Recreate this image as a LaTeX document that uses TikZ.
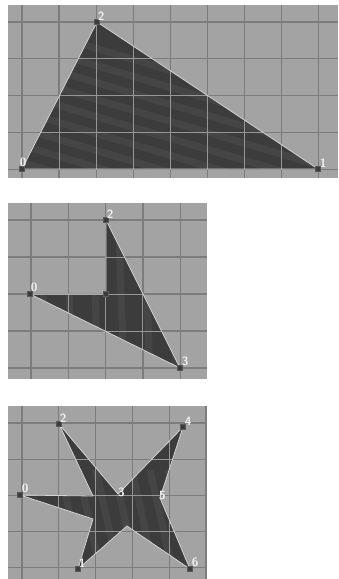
\documentclass[tikz,border=0pt]{standalone}
\usepackage{tikz}
\usetikzlibrary{positioning}

\definecolor{panelgray}{RGB}{163,163,163}
\definecolor{gridgray}{RGB}{124,124,124}
\definecolor{gridlight}{RGB}{150,150,150}
\definecolor{polyfill}{RGB}{60,60,60}
\definecolor{edgelight}{RGB}{212,212,212}
\definecolor{labelwhite}{RGB}{238,238,238}

\begin{document}
\begin{tikzpicture}[x=1pt,y=-1pt,node distance=1pt,
                    panel/.style={fill=panelgray},
                    gridline/.style={gridgray,line width=1.3pt},
                    innergrid/.style={gridlight,line width=1pt},
                    poly/.style={fill=polyfill},
                    polyedge/.style={edgelight,line width=0.8pt,line join=round},
                    streak/.style={white,opacity=0.05,line width=7pt},
                    vert/.style={rectangle,fill=polyfill,draw=gray!70!black,line width=0.3pt,
                                 minimum size=5pt,inner sep=0pt},
                    vlabel/.style={text=labelwhite,inner sep=0pt,
                                   font=\sffamily\bfseries\fontsize{12}{12}\selectfont}]
  \useasboundingbox (0,0) rectangle (338,579);

  % Panel 1: triangle
  \fill[panel] (8,5) rectangle (338,178);
  \foreach \i in {0,...,8} \draw[gridline] ({22+37.1*\i},5) -- ({22+37.1*\i},178);
  \foreach \j in {0,...,4} \draw[gridline] (8,{22+36.8*\j}) -- (338,{22+36.8*\j});
  \coordinate (t0) at (22,169);
  \coordinate (t1) at (318,169);
  \coordinate (t2) at (97,22);
  \fill[poly] (t0) -- (t1) -- (t2) -- cycle;
  \begin{scope}
    \clip (t0) -- (t1) -- (t2) -- cycle;
    \foreach \k in {0,...,9} \draw[streak] (0,{20+17*\k}) -- (338,{120+17*\k});
    \foreach \i in {0,...,8} \draw[innergrid] ({22+37.1*\i},5) -- ({22+37.1*\i},178);
    \foreach \j in {0,...,4} \draw[innergrid] (8,{22+36.8*\j}) -- (338,{22+36.8*\j});
  \end{scope}
  \draw[polyedge] (t0) -- (t1) -- (t2) -- cycle;
  \node[vert] (v0) at (t0) {};
  \node[vert] (v1) at (t1) {};
  \node[vert] (v2) at (t2) {};
  \node[vlabel, above right=-1pt and -5pt of v0] (l0) {0};
  \node[vlabel, above right=-1pt and -1pt of v1] (l1) {1};
  \node[vlabel, above right=-1pt and -2pt of v2] (l2) {2};

  % Panel 2: arrow shape
  \fill[panel] (8,203) rectangle (207,379);
  \foreach \i in {0,...,4} \draw[gridline] ({31+37.3*\i},203) -- ({31+37.3*\i},379);
  \foreach \j in {0,...,4} \draw[gridline] (8,{220+37*\j}) -- (207,{220+37*\j});
  \coordinate (m0) at (30,294);
  \coordinate (m1) at (106,294);
  \coordinate (m2) at (106,220);
  \coordinate (m3) at (180,368);
  \fill[poly] (m0) -- (m1) -- (m2) -- (m3) -- cycle;
  \begin{scope}
    \clip (m0) -- (m1) -- (m2) -- (m3) -- cycle;
    \foreach \k in {0,...,5} \draw[streak] ({40+26*\k},203) -- ({46+26*\k},379);
    \foreach \i in {0,...,4} \draw[innergrid] ({31+37.3*\i},203) -- ({31+37.3*\i},379);
    \foreach \j in {0,...,4} \draw[innergrid] (8,{220+37*\j}) -- (207,{220+37*\j});
  \end{scope}
  \draw[polyedge] (m0) -- (m1) -- (m2) -- (m3) -- cycle;
  \node[vert] (w0) at (m0) {};
  \node[vert] (w1) at (m1) {};
  \node[vert] (w2) at (m2) {};
  \node[vert] (w3) at (m3) {};
  \node[vlabel, above right=-1pt and -2pt of w0] (k0) {0};
  \node[vlabel, above right=-1pt and -2pt of w2] (k2) {2};
  \node[vlabel, above right=-1pt and -1pt of w3] (k3) {3};

  % Panel 3: star
  \fill[panel] (8,406) rectangle (207,579);
  \foreach \i in {0,...,5} \draw[gridline] ({22+36.8*\i},406) -- ({22+36.8*\i},579);
  \foreach \j in {0,...,4} \draw[gridline] (8,{423+36.2*\j}) -- (207,{423+36.2*\j});
  \coordinate (s0) at (20,495);
  \coordinate (sa) at (93,496);
  \coordinate (s2) at (59,424);
  \coordinate (s3) at (118,494);
  \coordinate (s4) at (183,427);
  \coordinate (s5) at (160,498);
  \coordinate (s6) at (190,569);
  \coordinate (sb) at (127,526);
  \coordinate (s1) at (78,569);
  \coordinate (sc) at (93,519);
  \fill[poly] (s0) -- (sa) -- (s2) -- (s3) -- (s4) -- (s5) -- (s6) -- (sb) -- (s1) -- (sc) -- cycle;
  \begin{scope}
    \clip (s0) -- (sa) -- (s2) -- (s3) -- (s4) -- (s5) -- (s6) -- (sb) -- (s1) -- (sc) -- cycle;
    \foreach \k in {0,...,6} \draw[streak] ({60+18*\k},470) -- ({80+18*\k},560);
    \foreach \i in {0,...,5} \draw[innergrid] ({22+36.8*\i},406) -- ({22+36.8*\i},579);
    \foreach \j in {0,...,4} \draw[innergrid] (8,{423+36.2*\j}) -- (207,{423+36.2*\j});
  \end{scope}
  \draw[polyedge] (s0) -- (sa) -- (s2) -- (s3) -- (s4) -- (s5) -- (s6) -- (sb) -- (s1) -- (sc) -- cycle;
  \node[vert] (u0) at (s0) {};
  \node[vert] (u1) at (s1) {};
  \node[vert] (u2) at (s2) {};
  \node[vert] (u4) at (s4) {};
  \node[vert] (u6) at (s6) {};
  \node[vlabel, above right=-1pt and -1pt of u0] (j0) {0};
  \node[vlabel, above right=-1pt and -2pt of u1] (j1) {1};
  \node[vlabel, above right=-1pt and -2pt of u2] (j2) {2};
  \node[vlabel, above right=-3pt and 0pt of s3] (j3) {3};
  \node[vlabel, above right=-1pt and -1pt of u4] (j4) {4};
  \node[vlabel, right=-1pt of s5, yshift=3pt] (j5) {5};
  \node[vlabel, above right=-1pt and -1pt of u6] (j6) {6};
\end{tikzpicture}
\end{document}
